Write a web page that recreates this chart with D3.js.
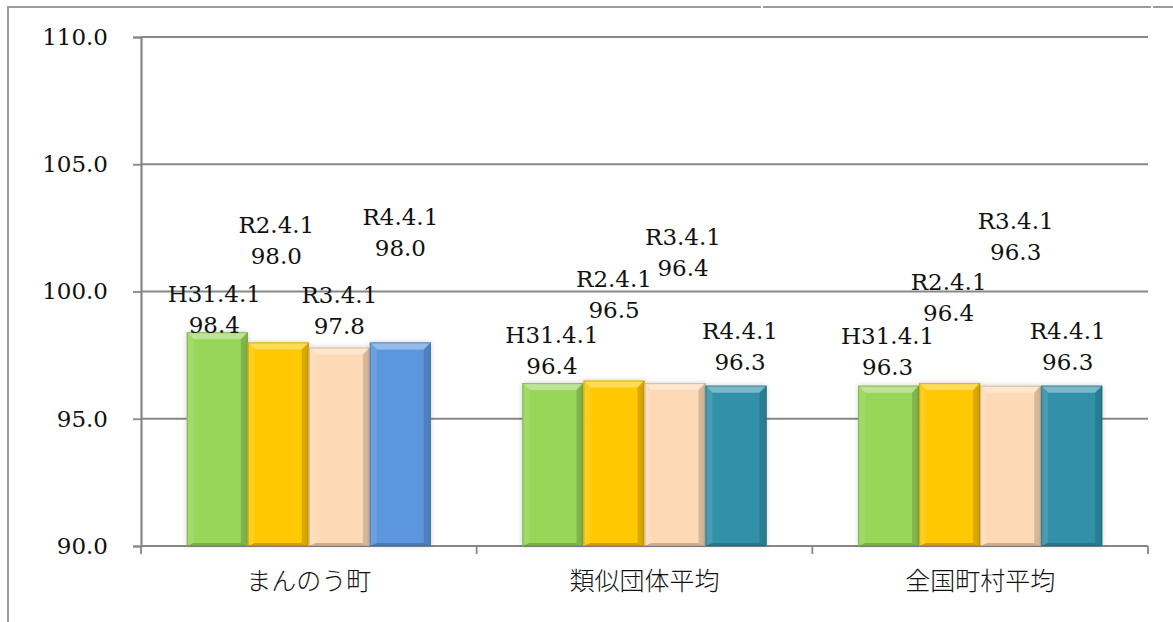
<!DOCTYPE html>
<html lang="ja">
<head>
<meta charset="utf-8">
<script src="https://cdn.jsdelivr.net/npm/d3@7"></script>
<style>
  html, body { margin: 0; padding: 0; background: #fff; }
  svg { display: block; }
</style>
</head>
<body>
<svg id="chart" width="1173" height="622"></svg>
<script>
// Categories and survey dates
const categories = ["まんのう町", "類似団体平均", "全国町村平均"];
const seriesNames = ["H31.4.1", "R2.4.1", "R3.4.1", "R4.4.1"];

// Values per category, in series order
const valuesManno   = [98.4, 98.0, 97.8, 98.0];
const valuesRuiji   = [96.4, 96.5, 96.4, 96.3];
const valuesZenkoku = [96.3, 96.4, 96.3, 96.3];
const values = [valuesManno, valuesRuiji, valuesZenkoku];

// Y axis ticks
const yTicks = [90, 95, 100, 105, 110];

// Bar colours per category (fourth bar differs for the town)
const barColors = [
  ["#98d65a", "#ffc800", "#fdd9b5", "#5b96dd"],
  ["#98d65a", "#ffc800", "#fdd9b5", "#3390a9"],
  ["#98d65a", "#ffc800", "#fdd9b5", "#3390a9"]
];

// Label nudges [dx, lift] in px so the stacked labels don't collide
const labelNudge = [
  [[-3, 0], [-2, 79], [0, 14], [0, 87]],
  [[-1, 10], [0, 64], [8, 108], [4, 17]],
  [[-1, 12], [-1, 63], [5, 127], [-4, 17]]
];

const numFont = "'DejaVu Serif', 'Liberation Serif', serif";
const numSize = 23;
const catFont = "'Noto Sans CJK JP', sans-serif";

const svg = d3.select("#chart");
const plotLeft = 141, plotRight = 1148, plotTop = 37, plotBottom = 546;

const x0 = d3.scaleBand().domain(categories).range([plotLeft, plotRight]).padding(0);
const x1 = d3.scaleBand().domain(seriesNames).range([0, x0.bandwidth()])
  .paddingInner(0).paddingOuter(0.75);
const y = d3.scaleLinear().domain([90, 110]).range([plotBottom, plotTop]);

const gridColor = "#878787";

// Outer frame
const frame = svg.append("g").attr("stroke", "#9a9a9a").attr("stroke-width", 2).attr("fill", "none");
frame.append("path").attr("d", "M8,622 V7 H761");
frame.append("path").attr("d", "M763,7 H1151");
frame.append("path").attr("d", "M1153,7 H1173");

// Gridlines
svg.append("g").selectAll("line").data(yTicks.filter(t => t > 90)).join("line")
  .attr("x1", plotLeft).attr("x2", plotRight)
  .attr("y1", d => y(d)).attr("y2", d => y(d))
  .attr("stroke", gridColor).attr("stroke-width", 1.8);

// Y axis
const yAxis = svg.append("g").attr("transform", `translate(${plotLeft},0)`)
  .call(d3.axisLeft(y).tickValues(yTicks).tickSize(8).tickPadding(25).tickFormat(d3.format(".1f")));
yAxis.attr("font-family", numFont).attr("font-size", numSize);
yAxis.select(".domain").attr("stroke", gridColor).attr("stroke-width", 2.2);
yAxis.selectAll(".tick line").attr("stroke", gridColor).attr("stroke-width", 1.8);
yAxis.selectAll(".tick text").attr("fill", "#111");

// X axis with ticks at category boundaries
const xAxisG = svg.append("g").attr("transform", `translate(0,${plotBottom})`);
xAxisG.append("line").attr("x1", plotLeft).attr("x2", plotRight).attr("y1", 0).attr("y2", 0)
  .attr("stroke", gridColor).attr("stroke-width", 2);
const bounds = categories.map(c => x0(c)).concat([x0(categories[categories.length - 1]) + x0.bandwidth()]);
xAxisG.selectAll("line.tk").data(bounds).join("line").attr("class", "tk")
  .attr("x1", d => d).attr("x2", d => d).attr("y1", 0).attr("y2", 8)
  .attr("stroke", gridColor).attr("stroke-width", 1.8);
xAxisG.selectAll("text").data(categories).join("text")
  .attr("font-family", catFont).attr("font-size", 25).attr("font-weight", 300).attr("fill", "#111")
  .attr("x", d => x0(d) + x0.bandwidth() / 2)
  .attr("y", 44)
  .attr("text-anchor", "middle")
  .text(d => d);

// Soft shadow for bars
const defs = svg.append("defs");
const f = defs.append("filter").attr("id", "shadow").attr("x", "-20%").attr("y", "-20%")
  .attr("width", "140%").attr("height", "140%");
f.append("feDropShadow").attr("dx", 0).attr("dy", 0).attr("stdDeviation", 2.5)
  .attr("flood-color", "#000").attr("flood-opacity", 0.18);

// Bars with a bevelled look
const bars = [];
categories.forEach((c, ci) => {
  seriesNames.forEach((s, si) => {
    bars.push({ c, ci, s, si, v: values[ci][si], color: barColors[ci][si] });
  });
});

const barG = svg.append("g").selectAll("g").data(bars).join("g")
  .attr("filter", "url(#shadow)");

barG.each(function(d) {
  const g = d3.select(this);
  const x = x0(d.c) + x1(d.s);
  const w = x1.bandwidth();
  const yt = y(d.v), yb = y(90);
  const h = yb - yt;
  const b = 7, bs = 3;
  const base = d3.color(d.color);
  g.append("rect").attr("x", x).attr("y", yt).attr("width", w).attr("height", h)
    .attr("fill", d.color);
  // top bevel (light)
  g.append("path")
    .attr("d", `M${x},${yt} L${x + w},${yt} L${x + w - b},${yt + b} L${x + b},${yt + b} Z`)
    .attr("fill", d3.interpolateRgb(d.color, "#ffffff")(0.35));
  // left bevel
  g.append("path")
    .attr("d", `M${x},${yt} L${x + b},${yt + b} L${x + b},${yb - bs} L${x},${yb} Z`)
    .attr("fill", d3.interpolateRgb(d.color, "#ffffff")(0.1));
  // right bevel (shade)
  g.append("path")
    .attr("d", `M${x + w},${yt} L${x + w - b},${yt + b} L${x + w - b},${yb - bs} L${x + w},${yb} Z`)
    .attr("fill", base.darker(0.45));
  // bottom bevel
  g.append("path")
    .attr("d", `M${x},${yb} L${x + b},${yb - bs} L${x + w - b},${yb - bs} L${x + w},${yb} Z`)
    .attr("fill", base.darker(0.6));
  // outline
  g.append("rect").attr("x", x + 0.5).attr("y", yt + 0.5).attr("width", w - 1).attr("height", h - 1)
    .attr("fill", "none").attr("stroke", base.darker(1.0)).attr("stroke-opacity", 0.55).attr("stroke-width", 1);
});

// Data labels: date on the first line, value on the second
const lbl = svg.append("g").selectAll("text").data(bars).join("text")
  .attr("font-family", numFont).attr("font-size", numSize).attr("fill", "#111")
  .attr("text-anchor", "middle")
  .attr("transform", d => {
    const n = labelNudge[d.ci][d.si];
    const cx = x0(d.c) + x1(d.s) + x1.bandwidth() / 2 + n[0];
    return `translate(${cx},${y(d.v) + 1 - n[1]})`;
  });
lbl.append("tspan").attr("x", 0).attr("y", -31).text(d => d.s);
lbl.append("tspan").attr("x", 0).attr("y", 0).text(d => d.v.toFixed(1));
</script>
</body>
</html>
